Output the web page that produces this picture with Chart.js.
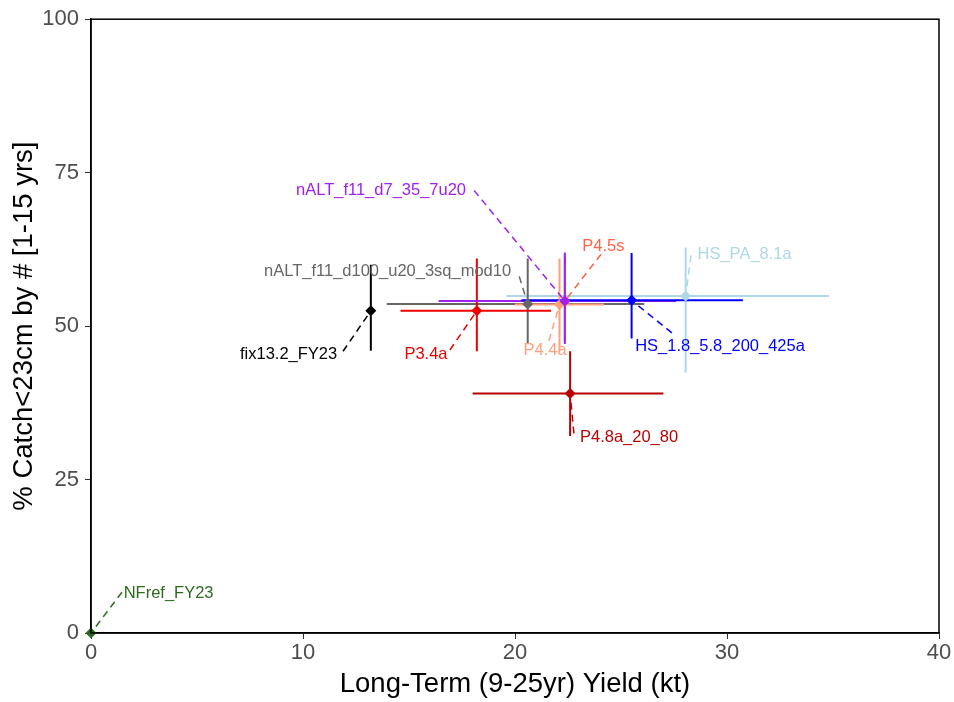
<!DOCTYPE html>
<html>
<head>
<meta charset="utf-8">
<title>Catch vs Yield</title>
<script src="https://cdn.jsdelivr.net/npm/chart.js@4.4.1/dist/chart.umd.min.js"></script>
<style>
  html, body { margin: 0; padding: 0; background: #ffffff; }
  #wrap { width: 954px; height: 702px; }
</style>
</head>
<body>
<div id="wrap"><canvas id="tradeoffChart" width="954" height="702"></canvas></div>
<script>
// Strategies: long-term yield (kt) vs % catch < 23cm, with 10-90% style spreads
const strategies = ['HS_PA_8.1a', 'nALT_f11_d100_u20_3sq_mod10', 'P4.4a', 'P4.5s', 'P3.4a',
                    'fix13.2_FY23', 'nALT_f11_d7_35_7u20', 'HS_1.8_5.8_200_425a', 'P4.8a_20_80', 'NFref_FY23'];
const yieldMid = [28.05, 20.6, 22.1, 22.35, 18.2, 13.2, 22.35, 25.5, 22.6, 0];
const yieldLo  = [19.6, 13.95, 20.0, 18.5, 14.6, 13.2, 16.4, 20.3, 18.0, 0];
const yieldHi  = [34.8, 26.1, 24.2, 26.2, 21.7, 13.2, 27.6, 30.75, 27.0, 0];
const catchMid = [54.9, 53.6, 53.5, 54.1, 52.5, 52.5, 54.1, 54.2, 39.0, 0];
const catchLo  = [42.4, 47.1, 45.9, 47.5, 45.9, 46.0, 47.1, 48.0, 32.1, 0];
const catchHi  = [62.8, 61.0, 61.0, 61.5, 61.0, 60.0, 62.0, 61.9, 45.9, 0];
const xTicks = [0, 10, 20, 30, 40];
const yTicks = [0, 25, 50, 75, 100];

const colours = ['#ADD8E6', '#666666', '#FFA07A', '#FF6347', '#EE0000',
                 '#000000', '#A020F0', '#0000FF', '#B80000', '#2D6A1F'];

// label text centre and leader start, in axis units
const labelPlace = {
  'HS_PA_8.1a':                  [30.83, 61.7, 28.3, 61.5],
  'nALT_f11_d100_u20_3sq_mod10': [13.99, 58.9, 20.2, 58.1],
  'P4.4a':                       [21.42, 46.1, 21.6, 47.6],
  'P4.5s':                       [24.17, 63.0, 24.06, 61.7],
  'P3.4a':                       [15.8, 45.45, 16.93, 46.1],
  'fix13.2_FY23':                [9.32, 45.45, 11.89, 45.9],
  'nALT_f11_d7_35_7u20':         [13.68, 72.1, 18.07, 72.1],
  'HS_1.8_5.8_200_425a':         [29.67, 46.75, 27.4, 48.9],
  'P4.8a_20_80':                 [25.38, 31.8, 22.78, 32.5],
  'NFref_FY23':                  [3.66, 6.5, 1.46, 6.65]
};

const FONT = "'Liberation Sans', Arial, sans-serif";

const errorBars = {
  id: 'errorBars',
  beforeDatasetsDraw(chart) {
    const { ctx, scales: { x, y } } = chart;
    ctx.save();
    ctx.lineWidth = 2;
    strategies.forEach((name, i) => {
      ctx.strokeStyle = colours[i];
      const px = x.getPixelForValue(yieldMid[i]);
      const py = y.getPixelForValue(catchMid[i]);
      ctx.beginPath();
      ctx.moveTo(x.getPixelForValue(yieldLo[i]), py);
      ctx.lineTo(x.getPixelForValue(yieldHi[i]), py);
      ctx.moveTo(px, y.getPixelForValue(catchLo[i]));
      ctx.lineTo(px, y.getPixelForValue(catchHi[i]));
      ctx.stroke();
    });
    ctx.restore();
  },
  afterDatasetsDraw(chart) {
    const { ctx, scales: { x, y } } = chart;
    ctx.save();
    ctx.font = '16.5px ' + FONT;
    ctx.textAlign = 'center';
    ctx.textBaseline = 'middle';
    strategies.forEach((name, i) => {
      const p = labelPlace[name];
      ctx.strokeStyle = colours[i];
      ctx.fillStyle = colours[i];
      ctx.lineWidth = 1.5;
      ctx.setLineDash([7, 5]);
      ctx.beginPath();
      ctx.moveTo(x.getPixelForValue(p[2]), y.getPixelForValue(p[3]));
      ctx.lineTo(x.getPixelForValue(yieldMid[i]), y.getPixelForValue(catchMid[i]));
      ctx.stroke();
      ctx.setLineDash([]);
      ctx.fillText(name, x.getPixelForValue(p[0]), y.getPixelForValue(p[1]));
    });
    // panel frame
    const a = chart.chartArea;
    ctx.strokeStyle = '#000000';
    ctx.lineWidth = 1.5;
    ctx.strokeRect(a.left, a.top, a.right - a.left, a.bottom - a.top);
    ctx.restore();
  }
};

const ctx = document.getElementById('tradeoffChart');
new Chart(ctx, {
  type: 'scatter',
  data: {
    // later strategies sit on top of earlier ones
    datasets: strategies.map((name, i) => ({
      label: name,
      data: [{ x: yieldMid[i], y: catchMid[i] }],
      order: strategies.length - i,
      pointStyle: 'rectRot',
      pointRadius: 5.5,
      backgroundColor: colours[i],
      borderColor: colours[i],
      borderWidth: 0,
      clip: false
    }))
  },
  options: {
    responsive: false,
    animation: false,
    layout: { padding: { top: 17, right: 15, left: 0, bottom: 0 } },
    plugins: { legend: { display: false }, tooltip: { enabled: false } },
    scales: {
      x: {
        type: 'linear',
        min: 0, max: 40,
        afterBuildTicks: s => { s.ticks = xTicks.map(v => ({ value: v })); },
        afterFit: s => { s.height = 69; },
        ticks: { font: { family: FONT, size: 22 }, color: '#4D4D4D', padding: 1 },
        grid: { drawOnChartArea: false, tickLength: 6, color: '#333333' },
        border: { color: '#000000', width: 1.5 },
        title: { display: true, text: 'Long-Term (9-25yr) Yield (kt)', color: '#000000',
                 font: { family: FONT, size: 27.5 }, padding: { top: 0, bottom: 1 } }
      },
      y: {
        type: 'linear',
        min: 0, max: 100,
        afterBuildTicks: s => { s.ticks = yTicks.map(v => ({ value: v })); },
        afterFit: s => { s.width = 91; },
        ticks: { font: { family: FONT, size: 22 }, color: '#4D4D4D', padding: 6 },
        grid: { drawOnChartArea: false, tickLength: 6, color: '#333333' },
        border: { color: '#000000', width: 1.5 },
        title: { display: true, text: '% Catch<23cm by # [1-15 yrs]', color: '#000000',
                 font: { family: FONT, size: 27.5 }, padding: { top: 8, bottom: 0 } }
      }
    }
  },
  plugins: [errorBars]
});
</script>
</body>
</html>
